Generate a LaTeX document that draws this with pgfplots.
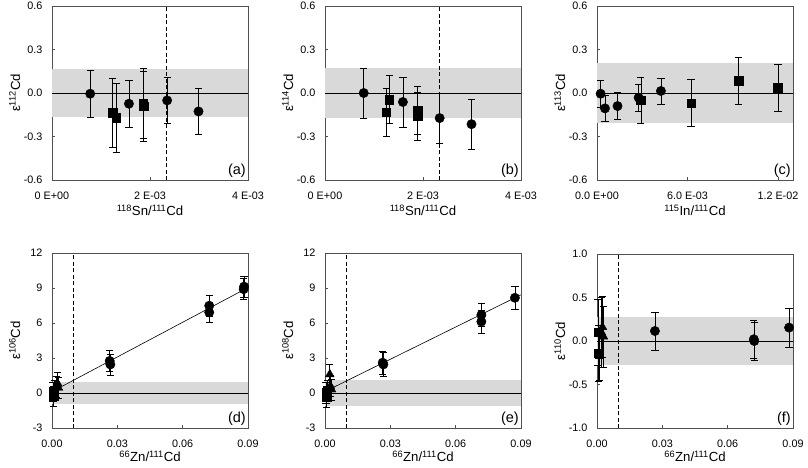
\documentclass[border=0pt]{standalone}
\usepackage{pgfplots}
\pgfplotsset{compat=1.18}
\usepackage{fontspec}
\setmainfont{Liberation Sans}
\definecolor{bandgray}{RGB}{217,217,217}
\definecolor{framegray}{RGB}{80,80,80}
\tikzset{lab/.style={anchor=south east, inner sep=2pt, font=\fontsize{14.5}{17}\selectfont}}
\pgfplotsset{
  panel/.style={
    scale only axis, width=196pt, clip=false,
    scaled x ticks=false, scaled y ticks=false,
    axis line style={framegray, line width=0.6pt},
    tick align=inside, xtick pos=bottom, ytick pos=left,
    major tick length=3pt,
    every tick/.style={framegray, line width=0.6pt},
    tick label style={font=\fontsize{10.8}{13}\selectfont},
    label style={font=\fontsize{13.2}{15}\selectfont},
    xticklabel style={yshift=-8pt},
    yticklabel style={xshift=-6pt},
    ylabel style={at={(axis description cs:-0.19,0.5)}, anchor=center},
    xlabel style={at={(axis description cs:0.5,-0.175)}, anchor=center},
  },
  ebar/.style={error bars/.cd, y dir=both, y explicit,
    error bar style={line width=0.6pt, black},
    error mark options={rotate=90, mark size=3.6pt, line width=0.6pt, black}},
  circ/.style={only marks, mark=*, mark size=4.7pt, black, ebar},
  sq/.style={only marks, mark=square*, mark size=4.3pt, black, ebar},
  tri/.style={only marks, mark=triangle*, mark size=5pt, black, ebar},
  zline/.style={black, line width=0.6pt},
  dline/.style={black, line width=0.6pt, dash pattern=on 4pt off 2.5pt},
  bottomrow/.style={xlabel style={at={(axis description cs:0.5,-0.163)}}},
}
\begin{document}
\begin{tikzpicture}
% ---------- (a) ----------
\begin{axis}[panel, height=174pt, at={(52pt,-180pt)}, anchor=south west,
  xmin=0, xmax=0.004, ymin=-0.6, ymax=0.6,
  xtick={0,0.002,0.004}, xticklabels={0 E+00,2 E-03,4 E-03},
  ytick={-0.6,-0.3,0,0.3,0.6}, yticklabels={-0.6,-0.3,0.0,0.3,0.6},
  xlabel={\textsuperscript{118}Sn/\textsuperscript{111}Cd},
  ylabel={ε\textsuperscript{112}Cd}]
\addplot[fill=bandgray, draw=none] coordinates {(0,-0.165) (0.004,-0.165) (0.004,0.165) (0,0.165)} -- cycle;
\addplot[zline] coordinates {(0,0) (0.004,0)};
\addplot[dline] coordinates {(0.00234,-0.6) (0.00234,0.6)};
\addplot[circ] coordinates {(0.00078,-0.005) +- (0,0.16) (0.00157,-0.074) +- (0,0.16) (0.00235,-0.051) +- (0,0.16) (0.00299,-0.127) +- (0,0.16)};
\addplot[sq] coordinates {(0.00124,-0.136) +- (0,0.24) (0.00131,-0.171) +- (0,0.24) (0.00186,-0.07) +- (0,0.24) (0.00187,-0.09) +- (0,0.24)};
\node[lab] at (rel axis cs:1,0) {(a)};
\end{axis}
% ---------- (b) ----------
\begin{axis}[panel, height=174pt, at={(325pt,-180pt)}, anchor=south west,
  xmin=0, xmax=0.004, ymin=-0.6, ymax=0.6,
  xtick={0,0.002,0.004}, xticklabels={0 E+00,2 E-03,4 E-03},
  ytick={-0.6,-0.3,0,0.3,0.6}, yticklabels={-0.6,-0.3,0.0,0.3,0.6},
  xlabel={\textsuperscript{118}Sn/\textsuperscript{111}Cd},
  ylabel={ε\textsuperscript{114}Cd}]
\addplot[fill=bandgray, draw=none] coordinates {(0,-0.175) (0.004,-0.175) (0.004,0.175) (0,0.175)} -- cycle;
\addplot[zline] coordinates {(0,0) (0.004,0)};
\addplot[dline] coordinates {(0.00234,-0.6) (0.00234,0.6)};
\addplot[circ] coordinates {(0.00079,0.0) +- (0,0.173) (0.00159,-0.062) +- (0,0.172) (0.00234,-0.173) +- (0,0.173) (0.00299,-0.215) +- (0,0.172)};
\addplot[sq] coordinates {(0.00125,-0.132) +- (0,0.167) (0.00131,-0.046) +- (0,0.165) (0.00189,-0.119) +- (0,0.165) (0.00189,-0.158) +- (0,0.165)};
\node[lab] at (rel axis cs:1,0) {(b)};
\end{axis}
% ---------- (c) ----------
\begin{axis}[panel, height=174pt, at={(597pt,-180pt)}, anchor=south west,
  xmin=0, xmax=0.013, ymin=-0.6, ymax=0.6,
  xtick={0,0.006,0.012}, xticklabels={0.0 E+00,6.0 E-03,1.2 E-02},
  ytick={-0.6,-0.3,0,0.3,0.6}, yticklabels={-0.6,-0.3,0.0,0.3,0.6},
  xlabel={\textsuperscript{115}In/\textsuperscript{111}Cd},
  ylabel={ε\textsuperscript{113}Cd}]
\addplot[fill=bandgray, draw=none] coordinates {(0,-0.205) (0.013,-0.205) (0.013,0.205) (0,0.205)} -- cycle;
\addplot[zline] coordinates {(0,0) (0.013,0)};
\addplot[circ] coordinates {(0.00024,-0.005) +- (0,0.092) (0.00053,-0.106) +- (0,0.09) (0.00136,-0.09) +- (0,0.092) (0.00276,-0.032) +- (0,0.091) (0.00424,0.014) +- (0,0.09)};
\addplot[sq] coordinates {(0.00291,-0.05) +- (0,0.16) (0.00624,-0.069) +- (0,0.163) (0.00938,0.083) +- (0,0.162) (0.0120,0.035) +- (0,0.162)};
\node[lab] at (rel axis cs:1,0) {(c)};
\end{axis}
% ---------- (d) ----------
\begin{axis}[panel, bottomrow, height=175pt, at={(52pt,-428pt)}, anchor=south west,
  xmin=0, xmax=0.09, ymin=-3, ymax=12,
  xtick={0,0.03,0.06,0.09}, xticklabels={0.00,0.03,0.06,0.09},
  ytick={-3,0,3,6,9,12}, yticklabels={-3,0,3,6,9,12},
  xlabel={\textsuperscript{66}Zn/\textsuperscript{111}Cd},
  ylabel={ε\textsuperscript{106}Cd}]
\addplot[fill=bandgray, draw=none] coordinates {(0,-0.95) (0.09,-0.95) (0.09,0.95) (0,0.95)} -- cycle;
\addplot[zline] coordinates {(0,0) (0.09,0)};
\addplot[dline] coordinates {(0.01,-3) (0.01,12)};
\addplot[zline] coordinates {(0.003,0.41) (0.09,9.04)};
\addplot[sq] coordinates {(0.0005,0.1) +- (0,0.85) (0.0008,-0.25) +- (0,0.85) (0.0010,0.2) +- (0,0.85)};
\addplot[tri] coordinates {(0.0025,0.85) +- (0,0.9) (0.0030,0.45) +- (0,0.9) (0.0020,0.5) +- (0,0.9)};
\addplot[circ] coordinates {(0.0265,2.75) +- (0,0.9) (0.0268,2.45) +- (0,0.9) (0.0722,7.48) +- (0,0.88) (0.0722,6.91) +- (0,0.88) (0.0882,9.12) +- (0,0.9) (0.0880,8.9) +- (0,0.9)};
\node[lab] at (rel axis cs:1,0) {(d)};
\end{axis}
% ---------- (e) ----------
\begin{axis}[panel, bottomrow, height=175pt, at={(325pt,-428pt)}, anchor=south west,
  xmin=0, xmax=0.09, ymin=-3, ymax=12,
  xtick={0,0.03,0.06,0.09}, xticklabels={0.00,0.03,0.06,0.09},
  ytick={-3,0,3,6,9,12}, yticklabels={-3,0,3,6,9,12},
  xlabel={\textsuperscript{66}Zn/\textsuperscript{111}Cd},
  ylabel={ε\textsuperscript{108}Cd}]
\addplot[fill=bandgray, draw=none] coordinates {(0,-1.13) (0.09,-1.13) (0.09,1.13) (0,1.13)} -- cycle;
\addplot[zline] coordinates {(0,0) (0.09,0)};
\addplot[dline] coordinates {(0.01,-3) (0.01,12)};
\addplot[zline] coordinates {(0.0037,0.47) (0.09,8.42)};
\addplot[sq] coordinates {(0.0005,0.05) +- (0,0.9) (0.0008,-0.3) +- (0,0.9) (0.0010,0.2) +- (0,0.9)};
\addplot[tri] coordinates {(0.0022,1.6) +- (0,0.9) (0.0030,0.3) +- (0,0.9) (0.0025,0.6) +- (0,0.9)};
\addplot[circ] coordinates {(0.0265,2.6) +- (0,1.0) (0.0268,2.45) +- (0,1.0) (0.0718,6.69) +- (0,1.0) (0.0718,6.12) +- (0,1.0) (0.0872,8.16) +- (0,0.95)};
\node[lab] at (rel axis cs:1,0) {(e)};
\end{axis}
% ---------- (f) ----------
\begin{axis}[panel, bottomrow, height=174pt, at={(597pt,-428pt)}, anchor=south west,
  xmin=0, xmax=0.09, ymin=-1, ymax=1,
  xtick={0,0.03,0.06,0.09}, xticklabels={0.00,0.03,0.06,0.09},
  ytick={-1,-0.5,0,0.5,1}, yticklabels={-1.0,-0.5,0.0,0.5,1.0},
  xlabel={\textsuperscript{66}Zn/\textsuperscript{111}Cd},
  ylabel={ε\textsuperscript{110}Cd}]
\addplot[fill=bandgray, draw=none] coordinates {(0,-0.28) (0.09,-0.28) (0.09,0.28) (0,0.28)} -- cycle;
\addplot[zline] coordinates {(0,0) (0.09,0)};
\addplot[dline] coordinates {(0.01,-1) (0.01,1)};
\addplot[sq] coordinates {(0.0005,0.10) +- (0,0.38) (0.0010,-0.15) +- (0,0.30) (0.0008,-0.14) +- (0,0.32)};
\addplot[tri] coordinates {(0.0025,0.16) +- (0,0.35) (0.0030,0.05) +- (0,0.35) (0.0020,0.10) +- (0,0.40)};
\addplot[circ] coordinates {(0.0266,0.115) +- (0,0.22) (0.0720,0.02) +- (0,0.22) (0.0722,0.0) +- (0,0.22) (0.0882,0.154) +- (0,0.223)};
\node[lab] at (rel axis cs:1,0) {(f)};
\end{axis}
\pgfresetboundingbox
\path[use as bounding box] (0pt,0pt) rectangle (808pt,-467pt);
\end{tikzpicture}
\end{document}
